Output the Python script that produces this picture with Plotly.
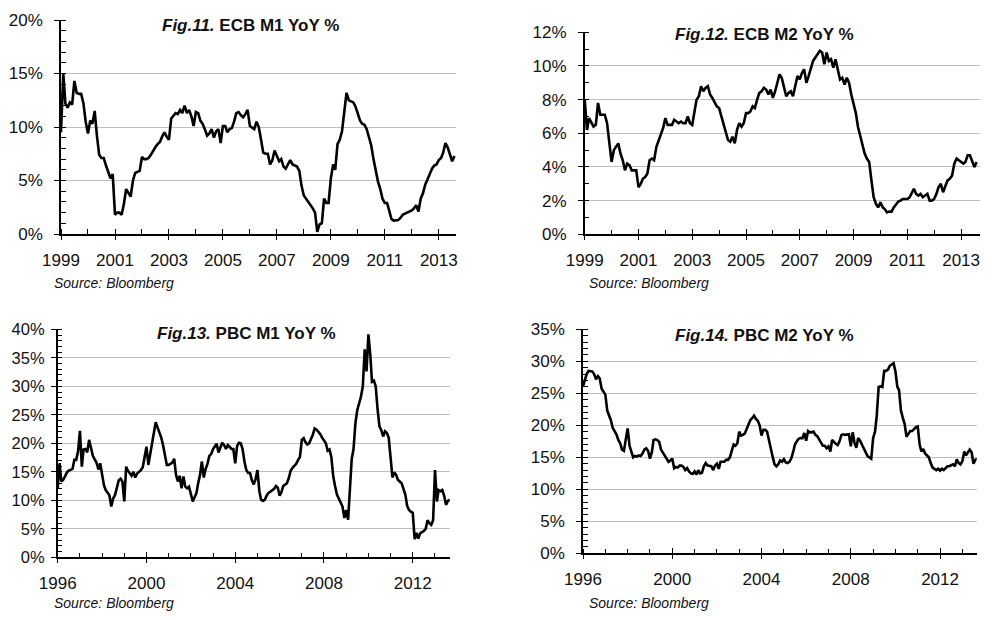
import pandas as pd
import plotly.graph_objects as go

# ---------------- data (YoY %, monthly) ----------------
ecb_m1 = [
    9.5, 15.0, 12.2, 11.8, 12.3, 12.1, 14.3, 13.2, 13.1, 13.1, 12.2, 10.5,
    9.4, 10.6, 10.3, 11.5, 9.2, 7.4, 7.1, 7.1, 6.4, 5.9, 5.2, 5.6,
    1.8, 2.0, 2.0, 1.8, 2.8, 4.2, 3.8, 3.5, 5.0, 5.7, 5.8, 5.9,
    7.2, 7.0, 7.0, 7.1, 7.4, 7.8, 8.1, 8.4, 8.6, 9.1, 9.5, 9.1,
    8.8, 10.8, 11.0, 11.3, 11.2, 11.6, 11.3, 12.0, 11.3, 11.6, 11.0, 10.1,
    11.4, 11.3, 10.6, 10.3, 9.8, 9.2, 9.4, 9.8, 9.0, 9.6, 9.8, 8.5,
    10.1, 10.1, 9.5, 9.8, 9.9, 10.5, 11.3, 11.4, 11.1, 10.9, 11.2, 11.6,
    10.1, 9.9, 9.8, 10.5, 10.0, 8.8, 7.6, 7.5, 7.5, 6.5, 6.9, 7.8,
    7.3, 6.8, 7.0, 6.3, 6.1, 6.5, 6.9, 6.5, 6.4, 6.3, 5.9, 4.5,
    3.6, 3.3, 2.9, 2.6, 2.4, 2.0, 0.2, 0.9, 1.0, 3.3, 2.9, 2.9,
    5.2, 6.5, 6.0, 8.4, 8.8, 9.6, 11.5, 13.2, 12.5, 12.4, 12.3, 11.9,
    11.2, 10.6, 10.3, 10.2, 9.8, 9.1, 8.3, 7.0, 5.8, 4.9, 4.2, 3.3,
    2.9, 2.9, 2.2, 1.4, 1.25, 1.25, 1.3, 1.5, 1.8, 1.9, 2.0, 2.1,
    2.2, 2.4, 2.7, 2.1, 3.3, 3.8, 4.6, 5.1, 5.7, 6.1, 6.4, 6.5,
    6.9, 7.1, 7.6, 8.5, 8.1, 7.4, 6.8, 7.3,
]

ecb_m2 = [
    8.0, 6.2, 6.9, 6.6, 6.4, 6.5, 7.8, 7.1, 7.1, 7.1, 6.6, 5.6,
    4.3, 5.0, 5.2, 5.4, 4.8, 4.4, 3.8, 4.2, 4.1, 3.8, 3.8, 3.8,
    2.8, 3.0, 3.3, 3.4, 3.6, 4.4, 4.5, 4.4, 5.2, 5.6, 6.0, 6.3,
    6.9, 6.5, 6.5, 6.5, 6.8, 6.7, 6.6, 6.7, 6.6, 6.6, 7.0, 6.6,
    6.5, 7.3, 8.0, 8.2, 8.8, 8.5, 8.7, 8.8, 8.3, 8.1, 7.8, 7.6,
    7.5, 7.0, 6.5, 6.1, 5.6, 5.5, 5.8, 5.4, 6.2, 6.6, 6.4, 6.6,
    7.2, 7.2, 7.3, 7.6, 7.5, 8.0, 8.4, 8.5, 8.7, 8.6, 8.3, 8.6,
    8.1, 8.5, 9.0, 9.5, 9.3, 8.7, 8.2, 8.4, 8.5, 8.2, 8.8, 9.4,
    9.2, 9.6, 9.8, 9.0, 9.4, 9.9, 10.3, 10.5, 10.7, 10.9, 10.8, 10.1,
    10.8, 10.3, 10.4, 9.9, 10.4, 9.8, 9.2, 9.3, 8.9, 9.3, 9.0, 8.3,
    7.8, 7.2, 6.4, 5.9, 5.3, 4.8, 4.5, 4.3, 3.2, 2.2, 1.8, 1.6,
    1.9, 1.6, 1.5, 1.3, 1.35, 1.35, 1.6, 1.8, 1.95, 2.0, 2.1, 2.1,
    2.1, 2.2, 2.4, 2.7, 2.4, 2.3, 2.4, 2.2, 2.3, 2.4, 2.0, 2.0,
    2.1, 2.4, 2.8, 3.0, 2.5, 2.9, 3.2, 3.3, 3.5, 4.2, 4.5, 4.4,
    4.3, 4.2, 4.3, 4.7, 4.7, 4.3, 4.0, 4.3,
]

pbc_m1 = [
    12.1, 16.5, 13.3, 13.6, 14.2, 14.9, 15.2, 15.3, 15.5, 17.1, 17.1, 18.6,
    22.2, 15.9, 18.9, 19.0, 18.4, 20.6, 19.0, 17.8, 17.2, 16.6, 15.4, 16.5,
    14.5, 12.6, 11.8, 11.3, 10.9, 8.9, 10.3, 10.9, 12.0, 13.5, 13.8, 13.3,
    9.8, 15.9, 15.2, 14.8, 14.3, 15.0, 14.0, 14.7, 15.0, 15.3, 15.8, 17.4,
    19.4, 16.2, 18.2, 20.0, 22.1, 23.7, 22.8, 22.0, 21.0, 19.6, 17.7, 16.2,
    16.2, 16.5, 16.6, 17.3, 14.5, 13.3, 14.3, 12.1, 14.2, 12.4, 12.1, 12.4,
    10.9, 9.8, 10.5, 11.2, 13.0, 14.5, 16.8, 14.0, 15.5, 16.4, 17.8, 18.1,
    19.0, 19.6, 19.9, 18.4, 19.3, 20.1, 19.7, 19.0, 19.7, 19.4, 19.0, 19.0,
    16.5, 19.5, 20.1, 20.0, 19.0, 16.8, 15.3, 14.8, 14.8, 13.5, 12.8, 13.7,
    15.3, 11.6, 10.1, 9.9, 10.1, 10.8, 11.3, 11.5, 11.7, 12.0, 12.5, 12.2,
    10.8, 11.5, 12.5, 12.8, 13.0, 13.9, 15.2, 15.7, 16.0, 16.4, 17.1, 17.6,
    20.6, 20.9, 20.2, 19.8, 20.0, 20.7, 21.5, 22.6, 22.4, 22.0, 21.6, 21.0,
    20.6, 20.0, 18.7, 18.9, 17.6, 14.2, 12.5, 11.0, 10.3, 9.6, 8.9, 6.9,
    8.3, 6.6, 12.5, 17.2, 19.0, 23.5, 25.8, 27.0, 28.2, 30.0, 36.5, 32.6,
    39.1, 35.5, 30.8, 31.0, 30.0, 26.0, 23.0, 22.3, 21.2, 22.1, 21.8, 21.0,
    17.0, 14.0, 14.9, 14.5, 13.6, 13.3, 13.0, 12.0, 11.0, 9.0, 8.3, 8.0,
    7.8, 3.2, 4.3, 3.3, 4.2, 4.4, 4.6, 5.0, 6.5, 6.0, 5.7, 6.5,
    15.3, 9.8, 11.8, 11.6, 11.8, 10.8, 9.2, 9.9, 10.1,
]

pbc_m2 = [
    26.1, 27.1, 28.0, 28.5, 28.5, 28.4, 28.0, 27.2, 27.7, 27.3, 25.7, 25.2,
    24.8, 22.3, 21.6, 20.8, 19.6, 19.0, 18.6, 17.7, 17.2, 16.2, 16.0, 17.8,
    19.5, 16.8, 15.8, 15.0, 15.2, 15.1, 15.3, 15.2, 15.6, 16.2, 16.4, 16.0,
    14.8, 15.8, 17.7, 17.8, 17.7, 17.4, 16.2, 15.7, 15.2, 14.8, 14.3, 14.5,
    14.8, 13.3, 13.5, 13.4, 13.7, 13.7, 13.5, 13.0, 13.3, 12.8, 12.5, 12.4,
    12.8, 12.3, 13.0, 12.5, 12.6, 13.6, 14.1, 13.7, 13.6, 13.6, 13.0, 13.7,
    14.0, 13.2, 14.3, 14.3, 14.3, 14.6, 14.6, 15.0, 16.2, 17.0, 16.8, 17.2,
    19.0, 18.4, 18.5, 18.7, 19.4, 20.2, 20.8, 21.1, 21.5, 21.0, 20.7, 20.0,
    18.4, 19.3, 19.3, 19.0, 17.6, 16.3, 15.1, 13.9, 13.6, 13.9, 14.5, 14.3,
    14.7, 14.2, 14.1, 14.3, 14.8, 15.8, 17.0, 17.5, 17.9, 18.0, 18.0, 18.8,
    17.6, 19.1, 18.9, 18.9, 19.0, 18.5, 18.3, 17.8, 17.3, 16.8, 16.8, 16.4,
    16.7, 15.9, 17.7, 17.3, 17.1, 16.9, 17.5, 18.5, 18.6, 18.5, 18.5, 18.6,
    16.7, 18.9, 17.3, 16.5, 18.0, 17.6, 17.0, 16.3, 15.8, 15.2, 15.0, 14.8,
    18.0, 19.0, 21.5, 26.0, 26.1, 26.0, 28.5, 28.5, 28.7, 29.3, 29.5, 29.7,
    28.4, 26.0, 25.5, 22.3, 21.2, 20.2, 18.2, 18.7, 19.1, 19.1, 19.5, 19.7,
    19.8, 17.0, 15.9, 16.3, 15.6, 15.3, 15.0, 14.1, 13.4, 13.2, 13.0, 13.2,
    12.9, 13.2, 13.0, 13.3, 13.6, 13.6, 13.8, 13.9, 13.6, 14.7, 14.1, 13.9,
    14.4, 15.9, 15.3, 15.8, 16.2, 15.8, 14.0, 14.6, 14.8,
]

ecb_start = "1999-01-01"
pbc_start = "1996-01-01"

titles = ["<b><i>Fig.11.</i> ECB M1 YoY %</b>", "<b><i>Fig.12.</i> ECB M2 YoY %</b>",
          "<b><i>Fig.13.</i> PBC M1 YoY %</b>", "<b><i>Fig.14.</i> PBC M2 YoY %</b>"]
source_text = "Source: Bloomberg"

# ---------------- figure ----------------
# the page places the plot 8 px in from the window's top-left corner
OFF = 8
W, H = 995 - OFF, 620 - OFF
FONT = "Liberation Sans"

def fx(px):
    return (px - OFF) / W

def fy(py):
    return 1 - (py - OFF) / H

panels = [
    dict(vals=ecb_m1, start=ecb_start, xend="2013-08-22", ymax=20, ydt=5, xdt="M24",
         dom=(61, 456, 20, 234), tpos=(250, 25), spos=(52, 283), ystand=8, yfs=17),
    dict(vals=ecb_m2, start=ecb_start, xend="2013-09-15", ymax=12, ydt=2, xdt="M24",
         dom=(584.7, 980, 32.3, 234.3), tpos=(764, 35), spos=(587, 283), ystand=8, yfs=17),
    dict(vals=pbc_m1, start=pbc_start, xend="2013-09-05", ymax=40, ydt=5, xdt="M48",
         dom=(57.7, 450, 329.3, 557.3), tpos=(246, 333.5), spos=(52, 602.7), ystand=3, yfs=16.5),
    dict(vals=pbc_m2, start=pbc_start, xend="2013-08-23", ymax=35, ydt=5, xdt="M48",
         dom=(583, 976.7, 329.3, 553.3), tpos=(764, 335), spos=(587, 602.7), ystand=8, yfs=17),
]

fig = go.Figure()
layout = dict(
    width=W, height=H,
    margin=dict(l=0, r=0, t=0, b=0, pad=0, autoexpand=False),
    paper_bgcolor="white", plot_bgcolor="white",
    showlegend=False,
    font=dict(family=FONT, color="#111111", size=17),
)
annotations = []

for i, p in enumerate(panels, start=1):
    dates = pd.date_range(p["start"], periods=len(p["vals"]), freq="MS")
    xa = "x" if i == 1 else f"x{i}"
    ya = "y" if i == 1 else f"y{i}"
    fig.add_trace(go.Scatter(x=dates, y=p["vals"], mode="lines",
                             line=dict(color="black", width=2.6),
                             xaxis=xa, yaxis=ya, hoverinfo="skip"))
    x0, x1, yt, yb = p["dom"]
    sfx = "" if i == 1 else str(i)
    layout["xaxis" + sfx] = dict(
        type="date", domain=[fx(x0), fx(x1)], anchor=ya, automargin=False,
        range=[p["start"], p["xend"]],
        tick0=p["start"], dtick=p["xdt"], tickformat="%Y",
        ticks="outside", ticklen=4, tickwidth=1.3, tickcolor="black",
        minor=dict(dtick="M12", tick0=p["start"], ticks="inside", ticklen=5,
                   tickwidth=1.3, tickcolor="black", showgrid=False),
        showline=True, linecolor="black", linewidth=1.5,
        showgrid=False, zeroline=False,
        tickfont=dict(family=FONT, size=17, color="#111111"),
        ticklabelstandoff=6,
    )
    layout["yaxis" + sfx] = dict(
        domain=[fy(yb), fy(yt)], anchor=xa, automargin=False,
        range=[0, p["ymax"]], dtick=p["ydt"], tick0=0, ticksuffix="%",
        ticks="outside", ticklen=5, tickwidth=1.3, tickcolor="black",
        minor=dict(dtick=1, tick0=0, ticks="inside", ticklen=5, tickwidth=1.3,
                   tickcolor="black", showgrid=False),
        showline=True, linecolor="black", linewidth=1.5,
        showgrid=True, gridcolor="#bfbfbf", gridwidth=1, zeroline=False,
        tickfont=dict(family=FONT, size=p["yfs"], color="#111111"),
        ticklabelstandoff=p["ystand"],
    )
    # overlay axis: inward half of the crossing major x ticks
    ox = f"x{i + 4}"
    fig.add_trace(go.Scatter(x=[], y=[], xaxis=ox, yaxis=ya, showlegend=False))
    layout[f"xaxis{i + 4}"] = dict(
        type="date", overlaying=xa, anchor=ya, automargin=False,
        range=[p["start"], p["xend"]],
        tick0=p["start"], dtick=p["xdt"], ticks="inside", ticklen=5,
        tickwidth=1.3, tickcolor="black", showticklabels=False,
        showline=False, showgrid=False, zeroline=False,
    )
    tx, ty = p["tpos"]
    annotations.append(dict(
        text=titles[i - 1], xref="paper", yref="paper", x=fx(tx), y=fy(ty),
        xanchor="center", yanchor="middle", showarrow=False,
        font=dict(family=FONT, size=17, color="#111111"),
        bgcolor="white", borderpad=3,
    ))
    sx, sy = p["spos"]
    annotations.append(dict(
        text="<i>" + source_text + "</i>", xref="paper", yref="paper",
        x=fx(sx), y=fy(sy), xanchor="left", yanchor="middle", showarrow=False,
        font=dict(family=FONT, size=14, color="#111111"),
    ))

layout["annotations"] = annotations
fig.update_layout(**layout)
fig.write_html("out.html")
